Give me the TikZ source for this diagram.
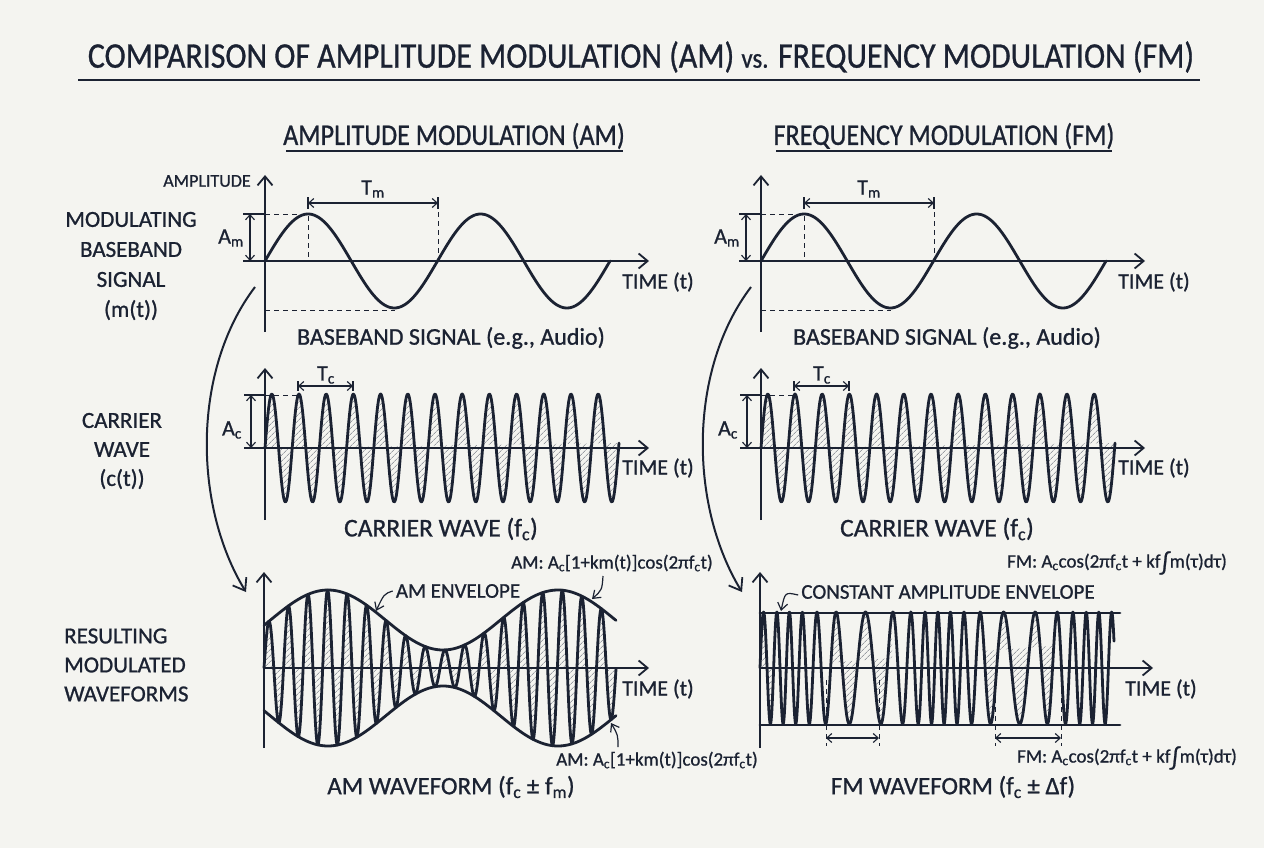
\documentclass[tikz,border=0pt]{standalone}
\usepackage{fontspec}
\setmainfont{Carlito}[FakeBold=0.9]
\usetikzlibrary{arrows.meta,patterns.meta}
\definecolor{ink}{HTML}{1B2232}
\definecolor{paper}{HTML}{F4F4F0}
\newcommand\fs[1]{\fontsize{#1}{#1}\selectfont}
\newcommand\sub[1]{\textsubscript{#1}}
\begin{document}
\begin{tikzpicture}[x=1pt,y=-1pt,
  wave/.style={draw=ink, line width=2.8pt, line join=round, line cap=round},
  axis/.style={draw=ink, line width=2pt, -{Straight Barb[length=9pt,width=15pt,line width=1.8pt]}},
  dim/.style={draw=ink, line width=1.1pt, {Straight Barb[length=5pt,width=9pt]}-{Straight Barb[length=5pt,width=9pt]}},
  tick/.style={draw=ink, line width=1.1pt},
  guide/.style={draw=ink, line width=0.9pt, dash pattern=on 5pt off 4pt},
  hatch/.style={pattern={Lines[angle=45,distance=4pt,line width=0.6pt]}, pattern color=ink!65},
  flowarrow/.style={draw=ink, line width=2pt, -{Straight Barb[length=11pt,width=16pt,line width=1.8pt]}},
  note/.style={draw=ink, line width=1.2pt, -{Straight Barb[length=7pt,width=10pt]}},
  lbl/.style={text=ink, inner sep=0pt, font=\fs{22}},
  rowlbl/.style={lbl, align=center, font=\fs{23}},
  title/.style={text=ink, inner sep=0pt, font=\fs{36}},
  head/.style={text=ink, inner sep=0pt, font=\fs{30}},
  formula/.style={text=ink, inner sep=0pt, font=\fs{19}},
  caption/.style={text=ink, inner sep=0pt, font=\fs{24}},
  small/.style={text=ink, inner sep=0pt, font=\fs{18}}
]
\fill[paper] (0,0) rectangle (1264,848);
\useasboundingbox (0,0) rectangle (1264,848);

% ---------- titles ----------
\node[title] (title) at (641,57) {\scalebox{0.885}[1]{COMPARISON OF AMPLITUDE MODULATION (AM) {\fs{28}vs.} FREQUENCY MODULATION (FM)}};
\draw[ink, line width=2.5pt] (78,80) -- (1200,80);
\node[head] (amhead) at (454,136) {\scalebox{0.87}[1]{AMPLITUDE MODULATION (AM)}};
\draw[ink, line width=2.2pt] (286,151) -- (623,151);
\node[head] (fmhead) at (944,136) {\scalebox{0.87}[1]{FREQUENCY MODULATION (FM)}};
\draw[ink, line width=2.2pt] (776,151) -- (1112,151);

% ---------- row labels ----------
\node[rowlbl] (lblmod) at (131,266) {MODULATING\\[7pt]BASEBAND\\[7pt]SIGNAL\\[7pt](m(t))};
\node[rowlbl] (lblcar) at (122,451) {CARRIER\\[6pt]WAVE\\[6pt](c(t))};
\node[rowlbl, align=left, anchor=west] (lblres) at (64,665) {RESULTING\\[6pt]MODULATED\\[6pt]WAVEFORMS};
\node[small] (amp) at (207,181) {AMPLITUDE};

% ---------- rows 1 and 2, both columns ----------
\foreach \s/\nm in {0/L,496/R}{
\begin{scope}[xshift=\s pt]
  % modulating signal
  \draw[axis] (265,332) -- (265,175);
  \draw[axis] (265,261) -- (649,261);
  \draw[guide] (265,214) -- (308,214) -- (308,261);
  \draw[guide] (438,203) -- (438,261);
  \draw[guide] (265,310) -- (395,310);
  \draw[wave] plot[domain=265:610, samples=200] (\x, {261-47*sin((\x-265)/172.5*360)});
  \draw[dim] (308,203) -- (438,203);
  \draw[tick] (308,197) -- (308,209) (438,197) -- (438,209);
  \node[lbl, font=\fs{22}] at (373,189) {T\sub{m}};
  \draw[tick] (243,214) -- (265,214) (243,261) -- (265,261);
  \draw[dim] (250,214) -- (250,261);
  \node[lbl, font=\fs{22}] at (231,238) {A\sub{m}};
  \node[lbl] at (658,282) {TIME (t)};
  \node[caption] at (451,338) {BASEBAND SIGNAL (e.g., Audio)};
  % carrier
  \draw[axis] (265,520) -- (265,368);
  \fill[hatch] plot[domain=265:619, samples=500] (\x, {448-54*sin((\x-265)/27.2*360)}) -- cycle;
  \draw[axis] (265,448) -- (649,448);
  \draw[guide] (265,395) -- (298,395);
  \draw[wave] plot[domain=265:619, samples=500] (\x, {448-54*sin((\x-265)/27.2*360)});
  \draw[dim] (298,386) -- (353,386);
  \draw[tick] (298,381) -- (298,391) (353,381) -- (353,391);
  \node[lbl, font=\fs{22}] at (326,375) {T\sub{c}};
  \draw[tick] (244,395) -- (265,395) (244,448) -- (265,448);
  \draw[dim] (251,395) -- (251,448);
  \node[lbl, font=\fs{22}] at (232,430) {A\sub{c}};
  \node[lbl] at (658,468) {TIME (t)};
  \node[caption, font=\fs{25.5}] at (441,529) {CARRIER WAVE (f\sub{c})};
  % flow arrow
  \coordinate (from\nm) at (255,287);
  \coordinate (to\nm) at (246,592);
\end{scope}
}
\draw[flowarrow] (fromL) .. controls (192,370) and (193,505) .. (toL);
\draw[flowarrow] (fromR) .. controls (688,370) and (689,505) .. (toR);

% ---------- AM result ----------
\draw[axis] (264,748) -- (264,572);
\fill[hatch] plot[domain=264:616, samples=900] (\x, {668-(48+30*cos((\x-328)/230*360))*sin((\x-264)/19.56*360)}) -- cycle;
\draw[axis] (264,668) -- (649,668);
\draw[wave] plot[domain=264:616, samples=900] (\x, {668-(48+30*cos((\x-328)/230*360))*sin((\x-264)/19.56*360)});
\draw[wave] plot[domain=264:616, samples=150] (\x, {668-(48+30*cos((\x-328)/230*360))});
\draw[wave] plot[domain=264:616, samples=150] (\x, {668+(48+30*cos((\x-328)/230*360))});
\node[lbl, font=\fs{21}] (amenv) at (458,591) {AM ENVELOPE};
\coordinate (amenvpt) at (376,611);
\draw[note] (amenv.west) ++(-3pt,0) .. controls (384,594) .. (amenvpt);
\node[formula] (amtop) at (612,563) {AM: A\sub{c}[1+km(t)]cos(2πf\sub{c}t)};
\coordinate (amtoppt) at (592,599);
\draw[note] (603,576) .. controls (602,590) .. (amtoppt);
\node[formula] (ambot) at (657,760) {AM: A\sub{c}[1+km(t)]cos(2πf\sub{c}t)};
\coordinate (ambotpt) at (611,723);
\draw[note] (618,747) .. controls (618,735) .. (ambotpt);
\node[lbl] at (658,689) {TIME (t)};
\node[caption, font=\fs{25}] (amwf) at (451,787) {AM WAVEFORM (f\sub{c} ± f\sub{m})};

% ---------- FM result ----------
\draw[axis] (760,748) -- (760,572);
\begin{scope}
  \clip (758,600) rectangle (772,740) (832,600) rectangle (892,740) (982,600) rectangle (1052,740);
  \fill[hatch] plot[domain=760:1114, samples=900] (\x, {668-56*sin(360*(0.055*(\x-760)+0.617*(sin((\x-785)/155*360)-sin((760-785)/155*360))))}) -- cycle;
\end{scope}
\draw[axis] (760,668) -- (1153,668);
\draw[wave] plot[domain=760:1114, samples=900] (\x, {668-56*sin(360*(0.055*(\x-760)+0.617*(sin((\x-785)/155*360)-sin((760-785)/155*360))))});
\draw[wave] (760,613) -- (1120,613);
\draw[wave] (760,725) -- (1120,725);
\draw[guide] (826,680) -- (826,746) (879,680) -- (879,746) (995,680) -- (995,746) (1061,680) -- (1061,746);
\draw[dim] (826,738) -- (879,738);
\draw[dim] (995,738) -- (1061,738);
\node[lbl, font=\fs{21}] (fmenv) at (948,592) {CONSTANT AMPLITUDE ENVELOPE};
\coordinate (fmenvpt) at (781,611);
\draw[note] (fmenv.west) ++(-3pt,-3pt) .. controls (785,592) .. (fmenvpt);
\node[formula] (fmtop) at (1117,563) {FM: A\sub{c}cos(2πf\sub{c}t + kf\raisebox{-3pt}{\fs{25}∫}m(τ)dτ)};
\node[formula] (fmbot) at (1127,758) {FM: A\sub{c}cos(2πf\sub{c}t + kf\raisebox{-3pt}{\fs{25}∫}m(τ)dτ)};
\node[lbl] at (1161,689) {TIME (t)};
\node[caption, font=\fs{25}] (fmwf) at (953,787) {FM WAVEFORM (f\sub{c} ± Δf)};
\end{tikzpicture}
\end{document}
